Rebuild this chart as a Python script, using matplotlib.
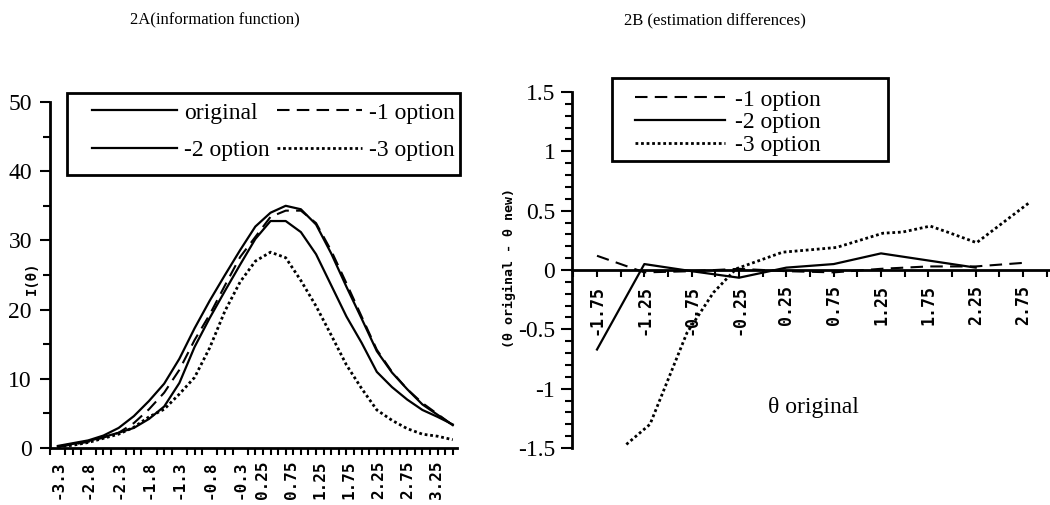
import numpy as np
import matplotlib.pyplot as plt
from matplotlib.patches import Rectangle
from matplotlib.ticker import MultipleLocator, FixedLocator

serif = 'Liberation Serif'
mono = 'DejaVu Sans Mono'

# 2A information function, sampled on theta
theta = [-3.3, -3.05, -2.8, -2.55, -2.3, -2.05, -1.8, -1.55, -1.3, -1.05, -0.8, -0.55, -0.3,
         -0.05, 0.2, 0.45, 0.7, 0.95, 1.2, 1.45, 1.7, 1.95, 2.2, 2.45, 2.7, 2.95, 3.2]
info_original = [0.3, 0.7, 1.1, 1.8, 2.9, 4.6, 6.8, 9.3, 12.9, 17.3, 21.3, 25.0, 28.6,
                 32.0, 34.0, 35.0, 34.5, 32.3, 28.1, 23.3, 18.7, 14.0, 10.9, 8.5, 6.3, 4.8, 3.3]
info_opt1 = [0.2, 0.5, 0.9, 1.5, 2.2, 3.6, 5.6, 8.0, 11.3, 15.6, 19.3, 23.5, 27.6,
             30.5, 33.4, 34.3, 34.3, 32.5, 28.5, 23.8, 19.0, 14.2, 11.0, 8.5, 6.5, 4.9, 3.3]
info_opt2 = [0.2, 0.6, 1.0, 1.6, 2.2, 2.9, 4.2, 6.0, 9.4, 14.6, 18.8, 22.7, 26.5,
             30.2, 32.8, 32.8, 31.2, 28.0, 23.5, 19.0, 15.2, 11.0, 8.8, 7.0, 5.5, 4.5, 3.4]
info_opt3 = [0.2, 0.4, 0.8, 1.4, 2.0, 3.0, 4.5, 5.6, 7.8, 10.2, 14.5, 19.8, 24.0,
             27.0, 28.3, 27.5, 24.2, 20.5, 16.3, 12.0, 8.6, 5.5, 4.0, 2.8, 2.0, 1.7, 1.2]

labels_a = ['-3.3', '-2.8', '-2.3', '-1.8', '-1.3', '-0.8', '-0.3',
            '0.25', '0.75', '1.25', '1.75', '2.25', '2.75', '3.25']
label_pos_a = [-3.3, -2.8, -2.3, -1.8, -1.3, -0.8, -0.3,
               0.06, 0.54, 1.02, 1.5, 1.98, 2.46, 2.94]

# 2B estimation differences
diff1_x = [-1.75, -1.25, -0.75, -0.25, 0.25, 0.75, 1.25, 1.75, 2.25, 2.75]
diff1_y = [0.12, -0.02, -0.01, 0.01, -0.01, -0.02, 0.01, 0.03, 0.03, 0.06]
diff2_x = [-1.75, -1.25, -0.75, -0.25, 0.25, 0.75, 1.25, 1.75, 2.25]
diff2_y = [-0.67, 0.05, -0.01, -0.065, 0.02, 0.05, 0.14, 0.08, 0.02]
diff3_x = [-1.44, -1.19, -0.8, -0.52, -0.28, 0.21, 0.5, 0.78, 1.27, 1.48, 1.77, 1.95, 2.26, 2.82]
diff3_y = [-1.47, -1.3, -0.53, -0.19, 0.01, 0.15, 0.17, 0.19, 0.31, 0.32, 0.37, 0.32, 0.23, 0.57]
labels_b = ['-1.75', '-1.25', '-0.75', '-0.25', '0.25', '0.75', '1.25', '1.75', '2.25', '2.75']

dash = (0, (6, 3.5))
dot = (0, (1, 1))

fig = plt.figure(figsize=(10.5, 5.05), dpi=100)
W, H = 1050, 505

# ---------- left panel ----------
ax1 = fig.add_axes([50 / W, 57 / H, 407 / W, 346 / H])
l_orig, = ax1.plot(theta, info_original, color='black', lw=1.6, label='original')
l_1, = ax1.plot(theta, info_opt1, color='black', lw=1.5, ls=dash, label='-1 option')
l_2, = ax1.plot(theta, info_opt2, color='black', lw=1.6, label='-2 option')
l_3, = ax1.plot(theta, info_opt3, color='black', lw=2, ls=dot, label='-3 option')

ax1.set_xlim(-3.43, 3.27)
ax1.set_ylim(0, 50)
ax1.yaxis.set_major_locator(MultipleLocator(10))
ax1.yaxis.set_minor_locator(MultipleLocator(5))
ax1.xaxis.set_major_locator(FixedLocator(label_pos_a))
ax1.set_xticklabels(labels_a, rotation=90, family=mono, weight='bold', fontsize=11.5)
ax1.xaxis.set_minor_locator(FixedLocator(np.arange(-3.425, 3.28, 0.125)))
ax1.tick_params(axis='x', which='major', length=0, pad=9)
ax1.tick_params(axis='x', which='minor', length=5, width=1.5, direction='out')
ax1.tick_params(axis='y', which='major', length=7, width=1.5, pad=6)
ax1.tick_params(axis='y', which='minor', length=5, width=1.5)
for t in ax1.get_yticklabels():
    t.set_family(serif)
    t.set_fontsize(17)
for s in ['top', 'right']:
    ax1.spines[s].set_visible(False)
for s in ['left', 'bottom']:
    ax1.spines[s].set_linewidth(2)

# legend without its own frame; the box is drawn separately so the padding can differ
ax1.legend([l_orig, l_2, l_1, l_3], ['original', '-2 option', '-1 option', '-3 option'],
           ncol=2, loc='upper left', bbox_to_anchor=(92 / W, 1 - 102 / H),
           bbox_transform=fig.transFigure, borderaxespad=0, frameon=False,
           handlelength=3.6, handletextpad=0.3, columnspacing=0.32,
           labelspacing=0.68, borderpad=0, prop={'family': serif, 'size': 17})
fig.add_artist(Rectangle((67 / W, 1 - 175 / H), 393 / W, 82 / H, transform=fig.transFigure,
                         fill=False, lw=2, ec='black'))

fig.text(32 / W, 1 - 278 / H, 'I(θ)', rotation=90, ha='center', va='center',
         family=mono, weight='bold', fontsize=10)

# ---------- right panel ----------
ax2 = fig.add_axes([572 / W, 57 / H, 478 / W, 356 / H])
d1, = ax2.plot(diff1_x, diff1_y, color='black', lw=1.5, ls=dash, label='-1 option')
d2, = ax2.plot(diff2_x, diff2_y, color='black', lw=1.6, label='-2 option')
d3, = ax2.plot(diff3_x, diff3_y, color='black', lw=2, ls=dot, label='-3 option')

ax2.set_xlim(-2.014, 3.035)
ax2.set_ylim(-1.5, 1.5)
ax2.spines['bottom'].set_position(('data', 0))
for s in ['top', 'right']:
    ax2.spines[s].set_visible(False)
for s in ['left', 'bottom']:
    ax2.spines[s].set_linewidth(2)
ax2.yaxis.set_major_locator(MultipleLocator(0.5))
ax2.yaxis.set_minor_locator(MultipleLocator(0.1))
ax2.yaxis.set_major_formatter(plt.FuncFormatter(lambda v, p: '0' if abs(v) < 1e-9 else '%g' % v))
ax2.xaxis.set_major_locator(FixedLocator(diff1_x))
ax2.set_xticklabels(labels_b, rotation=90, family=mono, weight='bold', fontsize=12)
ax2.xaxis.set_minor_locator(MultipleLocator(0.25))
ax2.tick_params(axis='x', which='both', length=5, width=1.5, pad=6)
ax2.tick_params(axis='y', which='major', length=8, width=1.5, pad=4)
ax2.tick_params(axis='y', which='minor', length=5, width=1.5)
for t in ax2.get_yticklabels():
    t.set_family(serif)
    t.set_fontsize(17)

ax2.legend(handles=[d1, d2, d3], loc='upper left', bbox_to_anchor=(635 / W, 1 - 89 / H),
           bbox_transform=fig.transFigure, borderaxespad=0, frameon=False,
           handlelength=3.8, handletextpad=0.42, labelspacing=0.06, borderpad=0,
           prop={'family': serif, 'size': 17})
fig.add_artist(Rectangle((612 / W, 1 - 161 / H), 276 / W, 83 / H, transform=fig.transFigure,
                         fill=False, lw=2, ec='black'))

fig.text(509 / W, 1 - 268 / H, '(θ original - θ new)', rotation=90, ha='center', va='center',
         family=mono, weight='bold', fontsize=9.5)
fig.text(813 / W, 1 - 407 / H, 'θ original', ha='center', va='center', family=serif, fontsize=17)

# titles
fig.text(215 / W, 1 - 20 / H, '2A(information function)', ha='center', va='center',
         family=serif, fontsize=12)
fig.text(715 / W, 1 - 20 / H, '2B (estimation differences)', ha='center', va='center',
         family=serif, fontsize=12)

fig.savefig('out.png', dpi=100, facecolor='white')
